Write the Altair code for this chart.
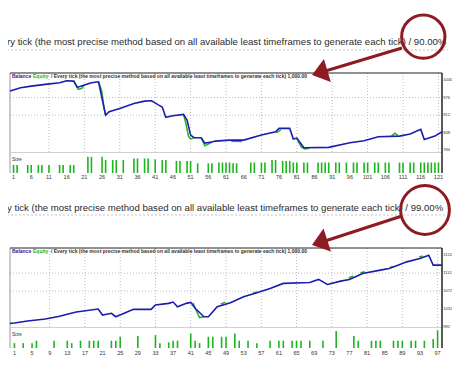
import altair as alt
import pandas as pd

# ---------------- texts ----------------
TITLE_TOP = "ry tick (the most precise method based on all available least timeframes to generate each tick) / 90.00%"
TITLE_BOTTOM = "y tick (the most precise method based on all available least timeframes to generate each tick) / 99.00%"
LEGEND_BAL = "Balance"
LEGEND_EQ = "Equity"
LEGEND_REST = "/ Every tick (the most precise method based on all available least timeframes to generate each tick) 1,000.00"
SIZE_LABEL = "Size"

# ---------------- top panel (90% modelling quality) ----------------
TOP_TRADE = [0, 3, 6, 10, 14, 16, 18, 19, 21, 23, 25, 27, 28, 31, 35, 38, 40, 42, 43, 44,
             46, 49, 50, 51, 52, 54, 55, 57, 58, 62, 66, 71, 75, 76, 79, 80, 81, 83, 90, 96,
             100, 104, 110, 113, 116, 117, 120, 122]
TOP_BALANCE = [1000.0, 1011.8, 1018.1, 1024.3, 1030.1, 1037.4, 1036.3, 1013.3, 1021.7, 1030.1,
               1033.8, 912.0, 924.1, 936.5, 954.8, 963.2, 964.3, 948.6, 941.3, 903.6,
               909.4, 914.6, 893.7, 838.9, 829.7, 829.0, 809.6, 813.3, 816.9, 820.6,
               820.6, 838.9, 850.9, 863.4, 863.4, 824.2, 827.9, 792.4, 793.9, 810.7,
               818.0, 832.6, 835.2, 842.5, 859.7, 823.1, 835.2, 850.9]
TOP_EQ_SEG = [1, 1, 1, 1, 2, 2, 2, 2, 3, 3, 3, 3, 3, 4, 4, 4, 4, 5, 5, 6, 6, 7, 7, 7, 7, 8, 8, 8]
TOP_EQ_TRADE = [18, 19.3, 20.3, 21, 25, 25.9, 26.6, 27, 49, 49.7, 50.4, 51, 52, 54, 55, 56, 57,
                62.5, 65.5, 75.2, 76.5, 81, 82.3, 83.3, 84.5, 107.8, 108.7, 109.6]
TOP_EQ_VALUE = [1036.3, 1006, 1010, 1021.7, 1033.8, 1000, 935, 912.0, 914.6, 880, 835, 825, 829.7,
                829.0, 800, 806, 813.3, 816, 815.5, 847, 858, 826, 795, 788, 791, 836, 846, 836]
TOP_BAR_TRADE = [1, 2, 5, 6, 8, 9, 11, 14, 15, 17, 18, 22, 23, 26, 27, 29, 30, 32, 35, 36,
                 38, 39, 41, 43, 44, 47, 48, 50, 51, 53, 56, 57, 59, 60, 61, 62, 63, 64, 68, 69,
                 71, 72, 74, 75, 77, 78, 79, 80, 81, 83, 84, 87, 88, 89, 90, 92, 93, 95, 97, 98,
                 100, 101, 103, 104, 106, 107, 110, 111, 113, 114, 116, 117, 118, 119, 120, 121]
TOP_BAR_SIZE = [0.05, 0.05, 0.05, 0.05, 0.05, 0.05, 0.05, 0.05, 0.05, 0.05,
                0.05, 0.10, 0.10, 0.10, 0.08, 0.08, 0.08, 0.08, 0.09, 0.09,
                0.09, 0.09, 0.085, 0.08, 0.08, 0.075, 0.075, 0.075, 0.075, 0.06,
                0.06, 0.06, 0.065, 0.065, 0.065, 0.065, 0.06, 0.06, 0.065, 0.065,
                0.065, 0.065, 0.08, 0.08, 0.075, 0.075, 0.075, 0.065, 0.065, 0.065,
                0.065, 0.065, 0.065, 0.065, 0.065, 0.065, 0.065, 0.065, 0.065, 0.065,
                0.065, 0.065, 0.065, 0.065, 0.065, 0.065, 0.065, 0.065, 0.065, 0.065,
                0.065, 0.065, 0.065, 0.065, 0.065, 0.065]
TOP_X_LABELS = [1, 6, 11, 16, 21, 26, 31, 36, 41, 46, 51, 56, 61, 66, 71, 76, 81, 86, 91, 96,
                101, 106, 111, 116, 121]
TOP_GRID_X = [11, 21, 31, 41, 51, 61, 71, 81, 91, 101, 111, 121]
TOP_Y_LABELS = [1040, 976, 912, 848, 784]
TOP_GRID_Y = [976, 912]

# ---------------- bottom panel (99% modelling quality) ----------------
BOT_TRADE = [0, 1, 4, 8, 11, 15, 20, 21, 23, 24, 28, 32, 33, 36, 37, 38, 40, 41, 42, 44,
             45, 47, 50, 53, 56, 59, 62, 68, 70, 72, 75, 77, 78, 80, 84, 86, 88, 90, 93, 95,
             96, 98]
BOT_BALANCE = [1000.0, 1001.0, 1005.3, 1009.8, 1015.3, 1025.3, 1032.0, 1018.7, 1022.5, 1014.9,
               1031.3, 1031.3, 1040.9, 1044.7, 1047.6, 1037.1, 1044.7, 1046.9, 1033.6, 1014.9,
               1014.9, 1037.1, 1046.0, 1059.3, 1068.2, 1078.0, 1089.1, 1091.3, 1098.0, 1086.9,
               1094.2, 1098.0, 1102.4, 1111.3, 1118.7, 1122.4, 1129.8, 1137.1, 1144.7, 1152.0,
               1129.8, 1129.8]
BOT_EQ_SEG = [1, 1, 1, 1, 2, 2, 3, 3, 4, 4, 5, 5, 6, 6, 7, 7]
BOT_EQ_TRADE = [41.5, 42.2, 43, 44, 47.8, 48.8, 55, 56, 76.8, 77.8, 79.5, 80.5, 86.2, 87, 92.8, 93.6]
BOT_EQ_VALUE = [1046, 1030, 1013, 1014.9, 1043, 1047, 1066, 1070, 1101, 1105.5, 1113, 1115,
                1124.5, 1127, 1148, 1150]
BOT_BAR_TRADE = [1, 3, 5, 6, 10, 13, 14, 16, 18, 19, 20, 23, 24, 25, 29, 33, 34, 36, 37, 38,
                 41, 42, 43, 45, 46, 48, 49, 51, 52, 54, 56, 59, 61, 62, 64, 65, 66, 68, 71, 74,
                 78, 79, 82, 83, 84, 87, 88, 89, 91, 92, 94, 96, 97]
BOT_BAR_SIZE = [0.03, 0.03, 0.03, 0.045, 0.045, 0.045, 0.03, 0.045, 0.045, 0.045,
                0.045, 0.045, 0.045, 0.07, 0.075, 0.08, 0.03, 0.035, 0.045, 0.045,
                0.09, 0.045, 0.03, 0.07, 0.07, 0.07, 0.07, 0.09, 0.045, 0.045,
                0.03, 0.045, 0.045, 0.045, 0.045, 0.045, 0.045, 0.045, 0.045, 0.105,
                0.075, 0.045, 0.045, 0.045, 0.045, 0.045, 0.045, 0.045, 0.045, 0.045,
                0.045, 0.055, 0.11]
BOT_X_LABELS = [1, 5, 9, 13, 17, 21, 25, 29, 33, 37, 41, 45, 49, 53, 57, 61, 65, 69, 73, 77,
                81, 85, 89, 93, 97]
BOT_GRID_X = [9, 17, 25, 33, 41, 49, 57, 65, 73, 81, 89, 97]
BOT_Y_LABELS = [1152, 1112, 1072, 1032, 992]
BOT_GRID_Y = [1112, 1072]

# ---------------- style ----------------
BLUE = "#1c1cb0"
GREEN = "#1db41d"
RED = "#8e1b22"
FONT = "Liberation Sans"
ARROW_PATH = "M-0.667,0 L0.667,-1 L0.667,1 Z"

one = pd.DataFrame({"k": [0]})


def panel(trades, balance, eq_seg, eq_trade, eq_value, bar_trade, bar_size,
          x_labels, grid_x, y_labels, grid_y, xdom, ydom, top, mid, base, xlab_y):
    X0, X1 = 2, 434
    xs = alt.Scale(domain=xdom, range=[X0, X1], nice=False, zero=False)
    ys = alt.Scale(domain=ydom, range=[mid, top], nice=False, zero=False)
    bs = alt.Scale(domain=[0, 0.13], range=[base, mid], nice=False, zero=False)

    layers = []
    # grids
    layers.append(alt.Chart(pd.DataFrame({"v": grid_y})).mark_rule(
        color="#bdbdbd", strokeDash=[1, 2], strokeWidth=1).encode(
        y=alt.Y("v:Q", scale=ys, axis=None), x=alt.value(X0), x2=alt.value(X1)))
    layers.append(alt.Chart(pd.DataFrame({"t": grid_x})).mark_rule(
        color="#bdbdbd", strokeDash=[1, 2], strokeWidth=1).encode(
        x=alt.X("t:Q", scale=xs, axis=None), y=alt.value(top), y2=alt.value(mid)))
    # frame
    layers.append(alt.Chart(one).mark_rule(color="#9a9a9a", strokeWidth=1).encode(
        x=alt.value(X0), y=alt.value(top), y2=alt.value(base)))
    layers.append(alt.Chart(one).mark_rule(color="#d0d0d0", strokeWidth=1).encode(
        x=alt.value(X0), x2=alt.value(X1), y=alt.value(mid + 0.5)))
    layers.append(alt.Chart(one).mark_rule(color="#222222", strokeWidth=1.2).encode(
        x=alt.value(X0), x2=alt.value(X1), y=alt.value(top)))
    layers.append(alt.Chart(one).mark_rule(color="#222222", strokeWidth=1.5).encode(
        x=alt.value(X1), y=alt.value(top), y2=alt.value(base)))
    # right labels
    ydf = pd.DataFrame({"v": y_labels, "s": [str(v) for v in y_labels]})
    layers.append(alt.Chart(ydf).mark_text(
        align="left", baseline="middle", font=FONT, fontSize=4.1, color="#333333").encode(
        y=alt.Y("v:Q", scale=ys, axis=None), x=alt.value(X1 + 1.2), text="s:N"))
    # x labels
    xdf = pd.DataFrame({"t": x_labels, "s": [str(v) for v in x_labels]})
    layers.append(alt.Chart(xdf).mark_text(
        align="center", baseline="middle", font=FONT, fontSize=5.5, color="#333333").encode(
        x=alt.X("t:Q", scale=xs, axis=None), y=alt.value(xlab_y), text="s:N"))
    # bars
    layers.append(alt.Chart(pd.DataFrame({"t": bar_trade, "s": bar_size})).mark_rule(
        color=GREEN, strokeWidth=1.6).encode(
        x=alt.X("t:Q", scale=xs, axis=None), y=alt.Y("s:Q", scale=bs, axis=None), y2=alt.datum(0)))
    # equity and balance
    layers.append(alt.Chart(pd.DataFrame({"seg": eq_seg, "t": eq_trade, "v": eq_value})).mark_line(
        color=GREEN, strokeWidth=1.5).encode(
        x=alt.X("t:Q", scale=xs, axis=None), y=alt.Y("v:Q", scale=ys, axis=None), detail="seg:N"))
    layers.append(alt.Chart(pd.DataFrame({"t": trades, "v": balance})).mark_line(
        color=BLUE, strokeWidth=1.6).encode(
        x=alt.X("t:Q", scale=xs, axis=None), y=alt.Y("v:Q", scale=ys, axis=None)))
    # legend and size label
    layers.append(alt.Chart(one).mark_text(
        align="left", baseline="middle", font=FONT, fontSize=5, fontWeight="bold", color=BLUE,
        text=LEGEND_BAL).encode(x=alt.value(X0 + 2), y=alt.value(top + 3)))
    layers.append(alt.Chart(one).mark_text(
        align="left", baseline="middle", font=FONT, fontSize=5, fontWeight="bold", color=GREEN,
        text=LEGEND_EQ).encode(x=alt.value(X0 + 23), y=alt.value(top + 3)))
    layers.append(alt.Chart(one).mark_text(
        align="left", baseline="middle", font=FONT, fontSize=5, fontWeight="bold", color="#333333",
        text=LEGEND_REST).encode(x=alt.value(X0 + 41), y=alt.value(top + 3)))
    layers.append(alt.Chart(one).mark_text(
        align="left", baseline="middle", font=FONT, fontSize=5, color="#333333",
        text=SIZE_LABEL).encode(x=alt.value(X0 + 2), y=alt.value(mid + 7)))
    return layers


def annotation(title, ty, uy, cx, cy, csize, lx1, ly1, lx2, ly2, ax, ay, angle):
    out = []
    out.append(alt.Chart(one).mark_text(
        align="left", baseline="middle", font=FONT, fontSize=9.6, color="#2b2b2b",
        text=title).encode(x=alt.value(-1), y=alt.value(ty)))
    out.append(alt.Chart(one).mark_rule(color="#c4c4c4", strokeDash=[2, 2], strokeWidth=1).encode(
        x=alt.value(-1), x2=alt.value(440), y=alt.value(uy)))
    out.append(alt.Chart(one).mark_point(
        shape="circle", filled=False, color=RED, strokeWidth=3, size=csize, opacity=1).encode(
        x=alt.value(cx), y=alt.value(cy)))
    out.append(alt.Chart(one).mark_rule(color=RED, strokeWidth=3).encode(
        x=alt.value(lx1), y=alt.value(ly1), x2=alt.value(lx2), y2=alt.value(ly2)))
    out.append(alt.Chart(one).mark_point(
        shape=ARROW_PATH, filled=True, color=RED, size=576, angle=angle, opacity=1).encode(
        x=alt.value(ax), y=alt.value(ay)))
    return out


layers = []
layers += panel(TOP_TRADE, TOP_BALANCE, TOP_EQ_SEG, TOP_EQ_TRADE, TOP_EQ_VALUE,
                TOP_BAR_TRADE, TOP_BAR_SIZE, TOP_X_LABELS, TOP_GRID_X, TOP_Y_LABELS, TOP_GRID_Y,
                [0, 122], [777, 1066], 65, 144, 165, 169)
layers += panel(BOT_TRADE, BOT_BALANCE, BOT_EQ_SEG, BOT_EQ_TRADE, BOT_EQ_VALUE,
                BOT_BAR_TRADE, BOT_BAR_SIZE, BOT_X_LABELS, BOT_GRID_X, BOT_Y_LABELS, BOT_GRID_Y,
                [0, 98], [992, 1168], 240, 319, 340, 345)
layers += annotation(TITLE_TOP, 34, 42, 415.3, 28.7, 1875, 394, 40, 314, 64, 311.7, 64.7, 343.3)
layers += annotation(TITLE_BOTTOM, 200, 207, 417, 202, 2380, 394, 208, 314, 234, 311.6, 234.5, 342.1)

chart = alt.layer(*layers).properties(
    width=444, height=353, padding=0, background="white",
    autosize=alt.AutoSizeParams(type="none"),
).resolve_scale(x="independent", y="independent").configure_view(strokeWidth=0)

chart.save("out.html", embed_options={"renderer": "svg", "actions": False})
